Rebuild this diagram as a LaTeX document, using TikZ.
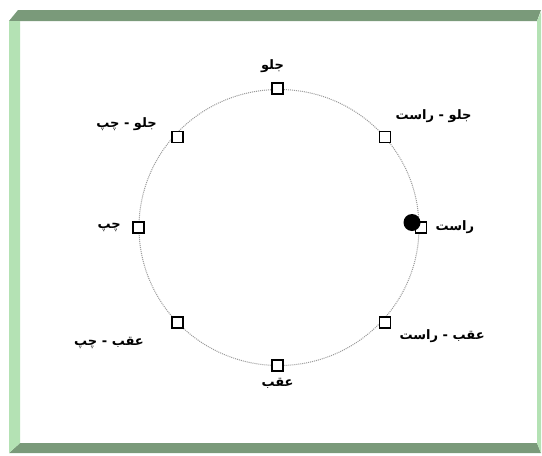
\documentclass[tikz,border=0pt]{standalone}
\usepackage{fontspec}
\newfontfamily\arabicfont[Script=Arabic]{DejaVu Sans}
\TeXXeTstate=1
\usetikzlibrary{positioning}
\definecolor{framedark}{HTML}{7A9A7A}
\definecolor{framelight}{HTML}{B4E2B4}
\colorlet{ringgray}{black!40}
\tikzset{
  marker/.style={draw=black,line width=1.2pt,fill=white,minimum size=11pt,inner sep=0pt,outer sep=0pt},
  lbl/.style={font=\arabicfont\bfseries\fontsize{13}{14}\selectfont,inner sep=1pt},
  ring/.style={ringgray,line width=1pt,dash pattern=on 1pt off 1pt},
  puck/.style={circle,fill=black,minimum size=17pt,inner sep=0pt}
}

\begin{document}
\begin{tikzpicture}[x=1pt,y=-1pt]
  \useasboundingbox (0,0) rectangle (542,456);

  % Frame
  \fill[white] (20,21) rectangle (537,443);
  \fill[framedark] (18,10) -- (541,10) -- (537,21) -- (9,21) -- cycle;
  \fill[framedark] (20,443) -- (537,443) -- (541,453) -- (9,453) -- cycle;
  \fill[framelight] (9,21) -- (20,21) -- (20,443) -- (9,453) -- cycle;
  \fill[framelight] (537,21) -- (541,12) -- (541,453) -- (537,443) -- cycle;

  % Ring
  \draw[ring] (279,227.5) ellipse (140 and 138);

  % Markers
  \node[marker] (sqF)  at (277.5,88.5)  {};
  \node[marker] (sqFR) at (385,137)     {};
  \node[marker] (sqR)  at (421,227.5)   {};
  \node[marker] (sqBR) at (385,322.5)   {};
  \node[marker] (sqB)  at (277.5,365.5) {};
  \node[marker] (sqBL) at (177.5,322.5) {};
  \node[marker] (sqL)  at (138.5,227.5) {};
  \node[marker] (sqFL) at (177.5,137)   {};

  % Current position
  \node[puck] (pos) at (412,222.5) {};

  % Labels
  \node[lbl, above=9pt of sqF, xshift=-5pt] (lF) {\beginR جلو\endR};
  \node[lbl, above right=8pt and 4pt of sqFR] (lFR) {\beginR جلو - راست\endR};
  \node[lbl, right=8pt of sqR] (lR) {\beginR راست\endR};
  \node[lbl, right=8pt of sqBR, yshift=-14pt] (lBR) {\beginR عقب - راست\endR};
  \node[lbl, below=6pt of sqB] (lB) {\beginR عقب\endR};
  \node[lbl, left=27pt of sqBL, yshift=-20pt] (lBL) {\beginR عقب - چپ\endR};
  \node[lbl, left=11pt of sqL] (lL) {\beginR چپ\endR};
  \node[lbl, left=14pt of sqFL, yshift=13pt] (lFL) {\beginR جلو - چپ\endR};

\end{tikzpicture}
\end{document}
